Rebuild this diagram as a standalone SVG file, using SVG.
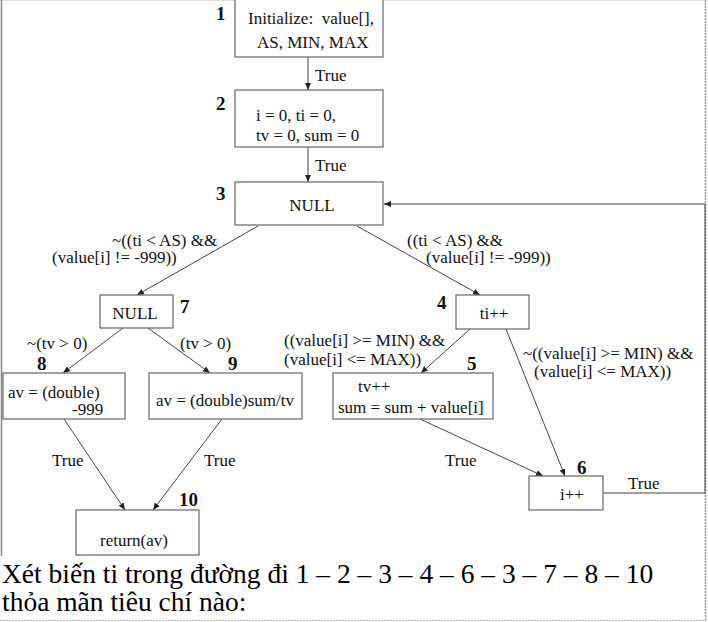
<svg xmlns="http://www.w3.org/2000/svg" width="708" height="622" viewBox="0 0 708 622">
<defs>
<marker id="ah" markerWidth="8" markerHeight="8" refX="7" refY="4" orient="auto" markerUnits="userSpaceOnUse">
<path d="M0,1 L7,4 L0,7 Z" fill="#222"/>
</marker>
<style>
.box{fill:#fff;stroke:#666;stroke-width:1.2}
.t{font-family:"Liberation Serif","Times New Roman",serif;font-size:17px;fill:#111}
.n{font-family:"Liberation Serif","Times New Roman",serif;font-size:19px;font-weight:bold;fill:#111}
.e{fill:none;stroke:#444;stroke-width:1}
.q{font-family:"Liberation Serif","Times New Roman",serif;font-size:27.5px;fill:#000}
</style>
</defs>
<rect width="708" height="622" fill="#fff"/>
<line x1="0" y1="0.5" x2="705" y2="0.5" stroke="#ddd" stroke-width="1"/>
<line x1="1.5" y1="0" x2="1.5" y2="556" stroke="#888" stroke-width="1.5"/>
<line x1="705.5" y1="0" x2="705.5" y2="620" stroke="#999" stroke-width="1.5" stroke-dasharray="2,1"/>
<line x1="0" y1="620.5" x2="706" y2="620.5" stroke="#bbb" stroke-width="1" stroke-dasharray="2,1"/>

<g id="connectors">
<line class="e" x1="308" y1="57" x2="308" y2="90" marker-end="url(#ah)"/>
<text class="t" x="315" y="81">True</text>
<line class="e" x1="308" y1="147" x2="308" y2="182" marker-end="url(#ah)"/>
<text class="t" x="315" y="171">True</text>
<line class="e" x1="258" y1="226" x2="137" y2="295" marker-end="url(#ah)"/>
<text class="t" x="112" y="246">~((ti &lt; AS) &amp;&amp;</text>
<text class="t" x="52" y="263">(value[i] != -999))</text>
<line class="e" x1="357" y1="226" x2="480" y2="295" marker-end="url(#ah)"/>
<text class="t" x="407" y="246">((ti &lt; AS) &amp;&amp;</text>
<text class="t" x="426" y="263">(value[i] != -999))</text>
<line class="e" x1="123" y1="328" x2="63" y2="373" marker-end="url(#ah)"/>
<text class="t" x="27" y="349">~(tv &gt; 0)</text>
<line class="e" x1="148" y1="328" x2="210" y2="373" marker-end="url(#ah)"/>
<text class="t" x="180" y="349">(tv &gt; 0)</text>
<line class="e" x1="470" y1="329" x2="421" y2="373" marker-end="url(#ah)"/>
<text class="t" x="284" y="346">((value[i] &gt;= MIN) &amp;&amp;</text>
<text class="t" x="284" y="365">(value[i] &lt;= MAX))</text>
<line class="e" x1="506" y1="329" x2="565" y2="476" marker-end="url(#ah)"/>
<text class="t" x="523" y="359">~((value[i] &gt;= MIN) &amp;&amp;</text>
<text class="t" x="534" y="377">(value[i] &lt;= MAX))</text>
<line class="e" x1="420" y1="419" x2="543" y2="476" marker-end="url(#ah)"/>
<text class="t" x="445" y="466">True</text>
<line class="e" x1="64" y1="419" x2="125" y2="510" marker-end="url(#ah)"/>
<text class="t" x="52" y="466">True</text>
<line class="e" x1="222" y1="419" x2="153" y2="510" marker-end="url(#ah)"/>
<text class="t" x="204" y="466">True</text>
<path class="e" d="M603,493 H705 V204 H384" marker-end="url(#ah)"/>
<text class="t" x="628" y="489">True</text>
</g>

<g id="node1">
<rect class="box" x="235" y="-1" width="148" height="58"/>
<text class="t" x="248" y="24" style="white-space:pre">Initialize:  value[],</text>
<text class="t" x="257" y="48">AS, MIN, MAX</text>
<text class="n" x="216" y="20">1</text>
</g>
<g id="node2">
<rect class="box" x="235" y="90" width="148" height="57"/>
<text class="t" x="256" y="121">i = 0, ti = 0,</text>
<text class="t" x="256" y="141">tv = 0, sum = 0</text>
<text class="n" x="216" y="110">2</text>
</g>
<g id="node3">
<rect class="box" x="235" y="182" width="148" height="43"/>
<text class="t" x="312" y="211" text-anchor="middle">NULL</text>
<text class="n" x="216" y="200">3</text>
</g>
<g id="node7">
<rect class="box" x="100" y="295" width="73" height="33"/>
<text class="t" x="135" y="319" text-anchor="middle">NULL</text>
<text class="n" x="180" y="313">7</text>
</g>
<g id="node4">
<rect class="box" x="456" y="295" width="73" height="34"/>
<text class="t" x="494" y="319" text-anchor="middle">ti++</text>
<text class="n" x="437" y="309">4</text>
</g>
<g id="node8">
<rect class="box" x="3" y="373" width="122" height="46"/>
<text class="t" x="8" y="398">av = (double)</text>
<text class="t" x="72" y="415">-999</text>
<text class="n" x="37" y="370">8</text>
</g>
<g id="node9">
<rect class="box" x="149" y="373" width="153" height="46"/>
<text class="t" x="225" y="406" text-anchor="middle">av = (double)sum/tv</text>
<text class="n" x="228" y="370">9</text>
</g>
<g id="node5">
<rect class="box" x="333" y="373" width="160" height="46"/>
<text class="t" x="358" y="392">tv++</text>
<text class="t" x="338" y="413">sum = sum + value[i]</text>
<text class="n" x="467" y="370">5</text>
</g>
<g id="node6">
<rect class="box" x="529" y="476" width="74" height="34"/>
<text class="t" x="572" y="500" text-anchor="middle">i++</text>
<text class="n" x="577" y="474">6</text>
</g>
<g id="node10">
<rect class="box" x="76" y="510" width="123" height="45"/>
<text class="t" x="134" y="546" text-anchor="middle">return(av)</text>
<text class="n" x="179" y="506">10</text>
</g>

<text class="q" x="2" y="583">Xét biến ti trong đường đi 1 – 2 – 3 – 4 – 6 – 3 – 7 – 8 – 10</text>
<text class="q" x="2" y="611">thỏa mãn tiêu chí nào:</text>
</svg>
